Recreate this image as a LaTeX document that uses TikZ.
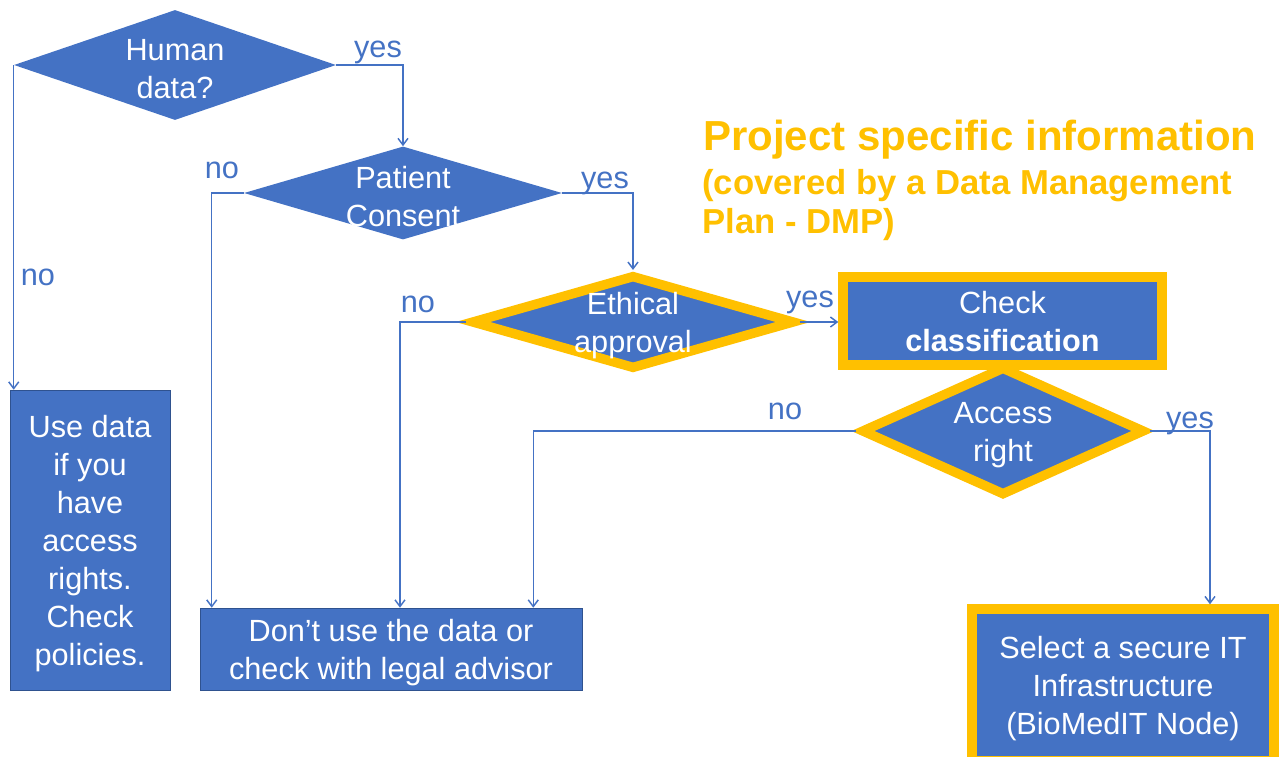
\documentclass[tikz,border=0pt]{standalone}
\usepackage{fontspec}
\setmainfont{Liberation Sans}
\usetikzlibrary{shapes.geometric,positioning,calc,arrows.meta}
\definecolor{pptblue}{HTML}{4472C4}
\definecolor{pptedge}{HTML}{2F528F}
\definecolor{pptgold}{HTML}{FFC000}

\begin{document}
\begin{tikzpicture}[x=0.75pt, y=-0.75pt,
every node/.style={font=\fontsize{23}{28.5}\selectfont},
dia/.style={diamond, fill=pptblue, inner sep=0pt},
hot/.style={draw=pptgold, line width=7.1pt},
box/.style={rectangle, fill=pptblue, text=white, align=center, inner sep=0pt, text depth=-1pt},
inside/.style={text=white, align=center, yshift=-3pt},
conn/.style={draw=pptblue, line width=1.1pt, -{Straight Barb[length=5pt,width=7.5pt]}},
yn/.style={text=pptblue, inner sep=0pt}]
\useasboundingbox (0,0) rectangle (1279,757);

% decisions
\node[dia, minimum width=241.5pt, minimum height=82.5pt,
  label={[inside]center:{Human\\data?}}] (human) at (175,65) {};
\node[dia, minimum width=238.5pt, minimum height=69.75pt,
  label={[inside]center:{Patient\\Consent}}] (patient) at (403,193) {};
\node[dia, hot, minimum width=243pt, minimum height=71pt,
  label={[inside]center:{Ethical\\approval}}] (ethic) at (633,322) {};
\node[box, hot, minimum width=239.25pt, minimum height=66pt] (check) at (1002.5,321) {Check\\\textbf{classification}};
\node[dia, hot, minimum width=213pt, minimum height=97pt,
  label={[inside]center:{Access\\right}}] (access) at (1003,431) {};

% outcomes
\node[box, draw=pptedge, minimum width=120pt, minimum height=225pt] (use) at (90,540) {Use data\\if you\\have\\access\\rights.\\Check\\policies.};
\node[box, draw=pptedge, minimum width=286.5pt, minimum height=61.5pt] (dont) at (391,649) {Don’t use the data or\\check with legal advisor};
\node[box, hot, minimum width=226.5pt, minimum height=114pt] (select) at (1123,685) {Select a secure IT\\Infrastructure\\(BioMedIT Node)};

% project info
\node[anchor=base west, inner sep=0pt, text=pptgold, font=\bfseries\fontsize{31.5}{36}\selectfont] (title) at (703,150) {Project specific information};
\node[anchor=base west, inner sep=0pt, text=pptgold, align=left, font=\bfseries\fontsize{26}{29.25}\selectfont] (dmp) at (702,233) {(covered by a Data Management\\Plan - DMP)};

% connectors
\draw[conn] (human.west) -- (human.west |- use.north);
\draw[conn] (human.east) -| (patient.north);
\draw[conn] (patient.west) -| ($(dont.north west)+(12,0)$);
\draw[conn] (patient.east) -| (ethic.north);
\draw[conn] (ethic.west) -| ($(dont.north)+(9,0)$);
\draw[conn] (ethic.east) -- (ethic.east -| check.west);
\draw[conn] (access.west) -| ($(dont.north east)+(-49,0)$);
\draw[conn] (access.east) -| ($(select.north)+(87,0)$);

% answers
\node[yn] (yhuman) at (378,52) {yes};
\node[yn] (nhuman) at (38,277) {no};
\node[yn] (npatient) at (222,170) {no};
\node[yn] (ypatient) at (605,183) {yes};
\node[yn] (nethic) at (418,304) {no};
\node[yn] (yethic) at (810,302) {yes};
\node[yn] (naccess) at (785,411) {no};
\node[yn] (yaccess) at (1190,423) {yes};
\end{tikzpicture}
\end{document}
